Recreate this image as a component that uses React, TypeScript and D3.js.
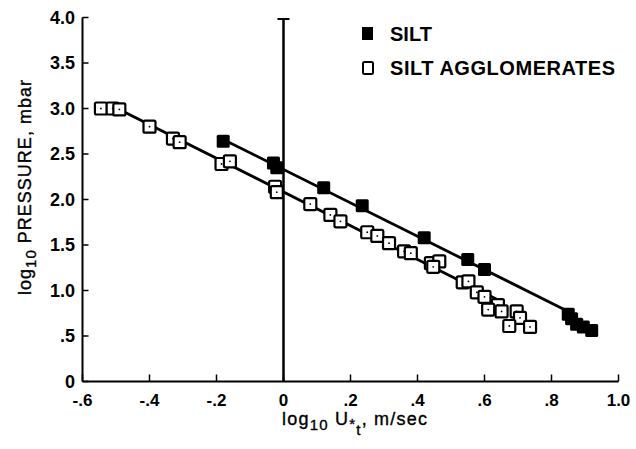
import React, { useEffect, useRef } from "react";
import * as d3 from "d3";

// silt (filled squares)
const siltX = [-0.18, -0.03, -0.02, 0.12, 0.235, 0.42, 0.55, 0.6, 0.85, 0.86, 0.875, 0.895, 0.92];
const siltY = [2.64, 2.4, 2.35, 2.13, 1.93, 1.58, 1.34, 1.23, 0.74, 0.69, 0.63, 0.6, 0.56];

// silt agglomerates (open squares)
const aggX = [-0.545, -0.51, -0.49, -0.4, -0.33, -0.31, -0.185, -0.16, -0.025, -0.02, 0.08, 0.14, 0.17,
  0.25, 0.28, 0.315, 0.36, 0.38, 0.44, 0.465, 0.447, 0.535, 0.552, 0.577, 0.6, 0.64, 0.611, 0.651, 0.696, 0.706, 0.674, 0.736];
const aggY = [3.0, 3.0, 2.99, 2.8, 2.67, 2.63, 2.39, 2.42, 2.14, 2.08, 1.95, 1.83, 1.76,
  1.64, 1.6, 1.52, 1.43, 1.41, 1.3, 1.32, 1.26, 1.09, 1.1, 0.98, 0.93, 0.84, 0.79, 0.77, 0.77, 0.7, 0.61, 0.6];

// fitted lines (end points)
const siltFitX = [-0.18, 0.85];
const siltFitY = [2.66, 0.77];
const aggFitX = [-0.49, 0.66];
const aggFitY = [2.99, 0.86];

const xTicks = [-0.6, -0.4, -0.2, 0, 0.2, 0.4, 0.6, 0.8, 1.0];
const xTickLabels = ["-.6", "-.4", "-.2", "0", ".2", ".4", ".6", ".8", "1.0"];
const yTicks = [0, 0.5, 1, 1.5, 2, 2.5, 3, 3.5, 4];
const yTickLabels = ["0", ".5", "1.0", "1.5", "2.0", "2.5", "3.0", "3.5", "4.0"];

const FONT = "'Liberation Sans', Arial, Helvetica, sans-serif";

export default function App() {
  const ref = useRef<SVGSVGElement>(null);

  useEffect(() => {
    const svg = d3.select(ref.current);
    svg.selectAll("*").remove();

    const x = d3.scaleLinear().domain([-0.6, 1.0]).range([82.5, 618.5]);
    const y = d3.scaleLinear().domain([0, 4]).range([381.5, 17.5]);

    const g = svg.append("g").attr("font-family", FONT);

    // axes lines
    g.append("line").attr("x1", x(-0.6)).attr("x2", x(-0.6)).attr("y1", y(4)).attr("y2", y(0))
      .attr("stroke", "#000").attr("stroke-width", 2);
    g.append("line").attr("x1", x(-0.6)).attr("x2", x(1.0)).attr("y1", y(0)).attr("y2", y(0))
      .attr("stroke", "#000").attr("stroke-width", 2);

    // ticks (inward)
    g.selectAll(".ytick").data(yTicks).join("line").attr("class", "ytick")
      .attr("x1", x(-0.6)).attr("x2", x(-0.6) + 6)
      .attr("y1", d => y(d)).attr("y2", d => y(d))
      .attr("stroke", "#000").attr("stroke-width", 1.5);
    g.selectAll(".xtick").data(xTicks).join("line").attr("class", "xtick")
      .attr("x1", d => x(d)).attr("x2", d => x(d))
      .attr("y1", y(0)).attr("y2", y(0) - 7)
      .attr("stroke", "#000").attr("stroke-width", 1.5);

    // tick labels
    g.selectAll(".ylab").data(yTicks).join("text").attr("class", "ylab")
      .attr("x", 75).attr("y", d => y(d)).attr("dy", "0.36em")
      .attr("text-anchor", "end").attr("font-size", 18).attr("font-weight", "bold")
      .text((d, i) => yTickLabels[i]);
    g.selectAll(".xlab").data(xTicks).join("text").attr("class", "xlab")
      .attr("x", d => x(d)).attr("y", 406)
      .attr("text-anchor", "middle").attr("font-size", 17).attr("font-weight", "bold")
      .text((d, i) => xTickLabels[i]);

    // vertical line at x = 0
    g.append("line").attr("x1", x(0)).attr("x2", x(0)).attr("y1", y(4) + 1.5).attr("y2", y(0))
      .attr("stroke", "#000").attr("stroke-width", 2.5);
    g.append("line").attr("x1", x(0) - 6).attr("x2", x(0) + 6).attr("y1", y(4) + 1.5).attr("y2", y(4) + 1.5)
      .attr("stroke", "#000").attr("stroke-width", 2);

    // fitted lines
    const drawFit = (xs: number[], ys: number[]) => {
      const pts = xs.map((v, i) => [x(v), y(ys[i])] as [number, number]);
      g.append("path").attr("d", d3.line()(pts)).attr("fill", "none")
        .attr("stroke", "#000").attr("stroke-width", 2.8);
    };
    drawFit(aggFitX, aggFitY);
    drawFit(siltFitX, siltFitY);

    const s = 12;
    // open squares
    const agg = aggX.map((v, i) => ({ x: v, y: aggY[i] }));
    const og = g.selectAll(".agg").data(agg).join("g").attr("class", "agg")
      .attr("transform", d => `translate(${x(d.x)},${y(d.y)})`);
    og.append("rect").attr("x", -s / 2).attr("y", -s / 2).attr("width", s).attr("height", s)
      .attr("rx", 1.5).attr("fill", "#fff").attr("stroke", "#000").attr("stroke-width", 2.2);
    og.append("circle").attr("r", 0.9).attr("fill", "#000");

    // filled squares
    const silt = siltX.map((v, i) => ({ x: v, y: siltY[i] }));
    g.selectAll(".silt").data(silt).join("rect").attr("class", "silt")
      .attr("x", d => x(d.x) - 6.5).attr("y", d => y(d.y) - 6.5)
      .attr("width", 13).attr("height", 13).attr("rx", 1.5).attr("fill", "#000");

    // legend
    g.append("rect").attr("x", 362).attr("y", 27).attr("width", 11).attr("height", 13).attr("fill", "#000");
    g.append("text").attr("x", 390).attr("y", 41).attr("font-size", 20).attr("font-weight", "bold").text("SILT");
    g.append("rect").attr("x", 363).attr("y", 62).attr("width", 10).attr("height", 12).attr("rx", 1.5)
      .attr("fill", "#fff").attr("stroke", "#000").attr("stroke-width", 2);
    g.append("text").attr("x", 390).attr("y", 75).attr("font-size", 20).attr("font-weight", "bold")
      .attr("textLength", 225).text("SILT AGGLOMERATES");

    // x title
    const xt = g.append("text").attr("x", 282).attr("y", 425).attr("font-size", 18)
      .attr("stroke", "#000").attr("stroke-width", 0.35).attr("textLength", 145);
    xt.append("tspan").text("log");
    xt.append("tspan").attr("font-size", 15).attr("dy", 5).text("10");
    xt.append("tspan").attr("dy", -5).text(" U");
    xt.append("tspan").attr("font-size", 15).attr("dy", 4).text("*");
    xt.append("tspan").attr("font-size", 15).attr("dy", 6).text("t");
    xt.append("tspan").attr("dy", -10).text(", m/sec");

    // y title
    const yt = g.append("text").attr("transform", "translate(31,295) rotate(-90)").attr("font-size", 18)
      .attr("stroke", "#000").attr("stroke-width", 0.35).attr("textLength", 215);
    yt.append("tspan").text("log");
    yt.append("tspan").attr("font-size", 15).attr("dy", 5).text("10");
    yt.append("tspan").attr("dy", -5).text(" PRESSURE, mbar");
  }, []);

  return (
    <svg ref={ref} width={636} height={449}
      style={{ position: "absolute", left: 0, top: 0, background: "#fff" }} />
  );
}
